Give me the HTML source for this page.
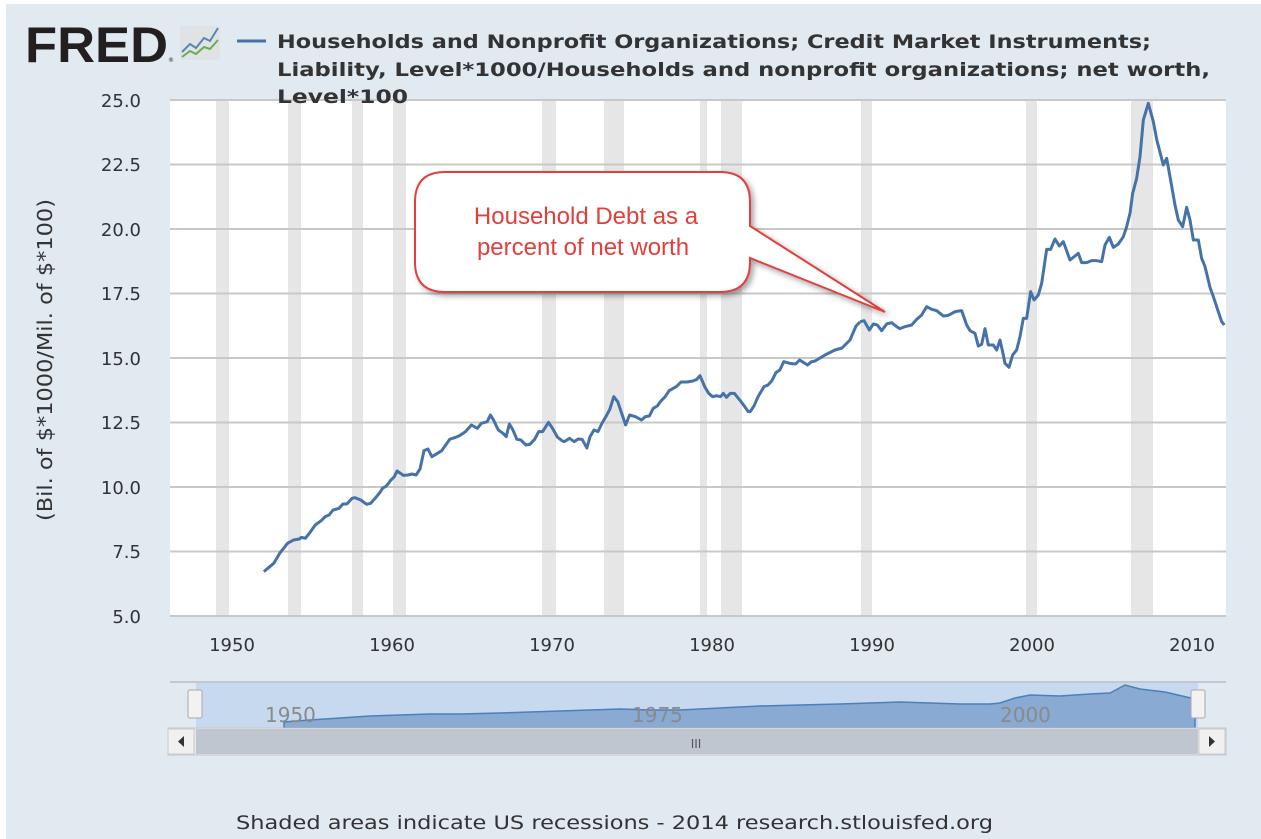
<!DOCTYPE html>
<html><head><meta charset="utf-8"><style>
body{margin:0;background:#fff}
svg{display:block}
</style></head><body>
<svg width="1261" height="839" viewBox="0 0 1261 839" xmlns="http://www.w3.org/2000/svg" font-family="DejaVu Sans, Liberation Sans, sans-serif">
<defs><filter id="sh" x="-10%" y="-10%" width="130%" height="130%"><feDropShadow dx="3" dy="3" stdDeviation="3" flood-color="#000" flood-opacity="0.35"/></filter></defs>
<rect x="0" y="0" width="1261" height="839" fill="#fff"/>
<rect x="6" y="4" width="1255" height="835" fill="#e1e9f1"/>
<!-- plot -->
<rect x="170" y="100" width="1056" height="516" fill="#fff"/>
<g fill="#e6e6e6">
<rect x="216" y="100" width="13" height="516"/><rect x="288" y="100" width="13" height="516"/>
<rect x="352" y="100" width="11" height="516"/><rect x="393" y="100" width="13" height="516"/>
<rect x="542" y="100" width="14" height="516"/><rect x="604" y="100" width="20" height="516"/>
<rect x="700" y="100" width="7" height="516"/><rect x="721" y="100" width="21" height="516"/>
<rect x="861" y="100" width="11" height="516"/><rect x="1026" y="100" width="11" height="516"/>
<rect x="1131" y="100" width="22" height="516"/>
</g>
<g stroke="#c8c8c8" stroke-width="2">
<line x1="170" x2="1226" y1="100" y2="100"/><line x1="170" x2="1226" y1="164.5" y2="164.5"/>
<line x1="170" x2="1226" y1="229" y2="229"/><line x1="170" x2="1226" y1="293.5" y2="293.5"/>
<line x1="170" x2="1226" y1="358" y2="358"/><line x1="170" x2="1226" y1="422.5" y2="422.5"/>
<line x1="170" x2="1226" y1="487" y2="487"/><line x1="170" x2="1226" y1="551.5" y2="551.5"/>
<line x1="170" x2="1226" y1="616" y2="616"/>
</g>
<!-- logo & title -->
<text x="25" y="62" font-family="Liberation Sans" font-weight="bold" font-size="50" fill="#231f20" textLength="143" lengthAdjust="spacingAndGlyphs">FRED</text>
<text x="168" y="62" font-size="6" fill="#231f20">®</text>
<rect x="180" y="26" width="40" height="34" rx="3" fill="#dfe3e6"/>
<polyline points="182,52 190,44 196,48 204,38 210,41 218,28" fill="none" stroke="#5a86b0" stroke-width="2"/>
<polyline points="182,57 190,51 196,54 204,47 210,49 218,40" fill="none" stroke="#6aae4a" stroke-width="2"/>
<line x1="237" y1="41" x2="266" y2="41" stroke="#4572a7" stroke-width="3"/>
<g font-size="19" font-weight="bold" fill="#333">
<text x="277" y="48" textLength="874" lengthAdjust="spacingAndGlyphs">Households and Nonprofit Organizations; Credit Market Instruments;</text>
<text x="277" y="76" textLength="933" lengthAdjust="spacingAndGlyphs">Liability, Level*1000/Households and nonprofit organizations; net worth,</text>
<text x="277" y="103" textLength="131" lengthAdjust="spacingAndGlyphs">Level*100</text>
</g>
<g font-size="18" fill="#333" text-anchor="end">
<text x="141" y="107">25.0</text><text x="141" y="171">22.5</text><text x="141" y="236">20.0</text>
<text x="141" y="300">17.5</text><text x="141" y="365">15.0</text><text x="141" y="429">12.5</text>
<text x="141" y="494">10.0</text><text x="141" y="558">7.5</text><text x="141" y="623">5.0</text>
</g>
<g font-size="18" fill="#333" text-anchor="middle">
<text x="232" y="651">1950</text><text x="392" y="651">1960</text><text x="552" y="651">1970</text>
<text x="712" y="651">1980</text><text x="872" y="651">1990</text><text x="1032" y="651">2000</text><text x="1192" y="651">2010</text>
</g>
<text transform="translate(52,360) rotate(-90)" font-size="20" fill="#333" text-anchor="middle" textLength="322" lengthAdjust="spacingAndGlyphs">(Bil. of $*1000/Mil. of $*100)</text>
<!-- series -->
<g fill="none" stroke="#4572a7" stroke-width="3" stroke-linejoin="round">
<polyline vector-effect="non-scaling-stroke" transform="translate(250,360) scale(0.3954,0.33333)" points="35,635 60,610 75,580 95,550 110,540 125,537 130,532 140,535 150,520 165,495 180,482 190,470 200,465 210,450 220,447 225,445 235,432 245,432 258,415 265,413 280,420 295,433 305,430 320,410 330,395 335,385 345,378 355,362 365,350 372,333 388,346 400,345 410,342 420,345 430,327 440,272 450,267 460,290 470,283 485,272 495,255 505,238 520,232 530,227 545,215 560,195 575,205 585,190 600,185 608,165 615,178 628,210 640,220 648,230 656,192 665,210 675,238 685,240 698,255 708,253 720,238 730,215 740,215 755,187 765,205 778,232 790,243 795,245 808,235 820,245 830,237 840,238 852,264 860,230 870,210 880,215 890,190 900,170 910,148 920,110 930,125 940,160 950,195 960,165 975,170 990,180 1000,170 1010,168 1020,145 1030,138 1040,122 1050,110 1060,92 1075,82 1080,78 1090,66 1105,66 1120,63 1130,58 1138,47 1150,80 1160,100 1170,110 1180,107 1190,110 1197,100 1205,112 1215,100 1225,100 1240,122 1250,138 1260,155 1265,155 1275,137 1285,110 1300,80 1310,75 1320,62 1330,38 1340,30 1350,5 1365,10 1380,12 1390,0 1410,15 1420,5 1430,3"/>
<polyline points="815,361 825,355 835,350 842,348 850,340 856,326 860,322"/>
<polyline vector-effect="non-scaling-stroke" transform="translate(860,90) scale(0.33333)" points="0,695 12,692 28,720 40,702 52,705 65,722 80,702 95,698 110,710 120,716 135,710 155,705 170,688 185,675 200,650 215,658 230,662 250,678 265,676 285,665 305,662 320,705 330,722 345,730 355,768 365,763 375,716 385,765 400,765 410,780 420,750 430,795 435,820 447,832 458,795 470,780 480,740 490,685 500,685 512,605 522,630 535,615 545,580 560,478 572,478 585,447 598,468 610,455 630,510 655,490 665,518 680,518 695,512 710,512 725,515 735,465 748,442 760,472 775,462 790,440 800,410 810,370 818,310 830,265 840,200 850,90 865,40 880,95 890,148 910,225 920,205 930,260 945,345 955,390 968,410 980,352 990,390 1000,450 1015,450 1025,505 1035,530 1050,592 1060,620 1075,665 1085,695 1093,705"/>
</g>
<!-- callout -->
<path filter="url(#sh)" d="M445,172 H720 Q750,172 750,202 V226 L885,312 L750,258 V262 Q750,292 720,292 H445 Q415,292 415,262 V202 Q415,172 445,172 Z" fill="#fff" stroke="#e0403c" stroke-width="2"/>
<g font-family="Liberation Sans, sans-serif" font-size="24" fill="#e0403c" text-anchor="middle">
<text x="586" y="224">Household Debt as a</text>
<text x="583" y="255">percent of net worth</text>
</g>
<!-- navigator -->
<line x1="170" y1="682" x2="1226" y2="682" stroke="#b8bec6" stroke-width="1.5"/>
<rect x="196" y="683" width="1002" height="45" fill="#c6d9ee"/>
<path d="M284,728 L284,722 310,720 340,718 370,716 400,715 430,714 460,714 500,713 530,712 560,711 590,710 620,709 650,710 680,710 720,708 760,706 800,705 840,704 870,703 900,702 930,703 960,704 990,704 1000,703 1015,698 1030,695 1060,696 1090,694 1110,693 1125,685 1140,689 1165,692 1195,699 L1195,728 Z" fill="#88aad3" stroke="#4e7fb8" stroke-width="1.5"/>
<g font-size="20" fill="#8a8a8a"><text x="265" y="722">1950</text><text x="632" y="722">1975</text><text x="1000" y="722">2000</text></g>
<rect x="188" y="690" width="14" height="28" rx="2" fill="#f2f2f2" stroke="#aaa"/>
<rect x="1191" y="690" width="14" height="28" rx="2" fill="#f2f2f2" stroke="#aaa"/>
<rect x="168" y="728" width="1058" height="27" fill="#e6e6e6" stroke="#c8c8c8"/>
<rect x="196" y="729" width="1002" height="25" fill="#bfc6cf"/>
<rect x="168" y="729" width="26" height="25" fill="#f0f0f0" stroke="#ccc"/>
<rect x="1199" y="729" width="26" height="25" fill="#f0f0f0" stroke="#ccc"/>
<path d="M184,736 L178,741.5 184,747Z" fill="#333"/><path d="M1209,736 L1215,741.5 1209,747Z" fill="#333"/>
<text x="696" y="748" font-size="12" fill="#555" text-anchor="middle">III</text>
<text x="236" y="829" font-size="19" fill="#333" textLength="757" lengthAdjust="spacingAndGlyphs">Shaded areas indicate US recessions - 2014 research.stlouisfed.org</text>
</svg>
</body></html>
